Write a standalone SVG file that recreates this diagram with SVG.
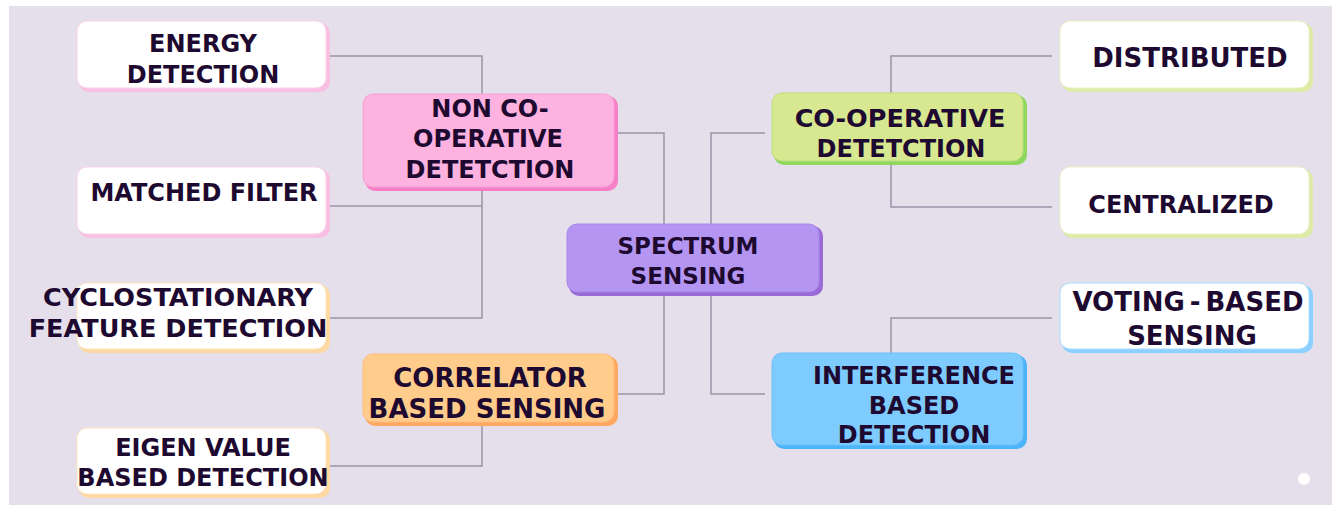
<svg xmlns="http://www.w3.org/2000/svg" width="1340" height="505" viewBox="0 0 1340 505">
  <defs>
    <style>
      .bg { fill: #E5DFEC; }
      .wire { fill: none; stroke: #9B94A8; stroke-width: 1.5; }
      text { font-family: "DejaVu Sans", "Liberation Sans", sans-serif; font-weight: bold; font-size: 24px; fill: #1E0A30; text-anchor: middle; }
      .big { font-size: 26px; }
      .mid { font-size: 25.5px; }
      .small { font-size: 23px; }
      .pink .edge { fill: #F77FC8; }  .pink .face { fill: #FDB2DF; stroke: #F9A0D4; }
      .pinkw .edge { fill: #F9BFE2; } .pinkw .face { fill: #FFFFFF; stroke: #FBD3EC; }
      .orange .edge { fill: #FFA862; } .orange .face { fill: #FFCC8C; stroke: #FFBA78; }
      .orangew .edge { fill: #FED8A2; } .orangew .face { fill: #FFFFFF; stroke: #FFE4BE; }
      .purple .edge { fill: #9A6BD6; } .purple .face { fill: #B496F2; stroke: #A886E6; }
      .green .edge { fill: #8ED860; } .green .face { fill: #D8E890; stroke: #B8E07A; }
      .greenw .edge { fill: #DDEBA6; } .greenw .face { fill: #FFFFFF; stroke: #E8F2C2; }
      .blue .edge { fill: #4CB4F8; } .blue .face { fill: #7ECBFF; stroke: #6CC0FA; }
      .bluew .edge { fill: #8CD0FF; } .bluew .face { fill: #FFFFFF; stroke: #A8DCFF; }
      .face { stroke-width: 1; }
    </style>
  </defs>

  <rect class="bg" x="9" y="6" width="1323" height="499"/>

  <g id="connectors">
    <!-- left branch: non co-operative detection and its children -->
    <path class="wire" d="M617,133 H664 V224"/>
    <path class="wire" d="M329,56 H482 V94"/>
    <path class="wire" d="M482,190 V318 H329"/>
    <path class="wire" d="M482,206 H329"/>
    <!-- left branch: correlator based sensing -->
    <path class="wire" d="M664,295 V394 H617"/>
    <path class="wire" d="M482,425 V466 H329"/>
    <!-- right branch: co-operative detection -->
    <path class="wire" d="M711,224 V133 H765"/>
    <path class="wire" d="M891,93 V56 H1052"/>
    <path class="wire" d="M891,164 V207 H1052"/>
    <!-- right branch: interference based detection -->
    <path class="wire" d="M711,295 V394 H765"/>
    <path class="wire" d="M891,353 V318 H1052"/>
  </g>

  <g id="spectrum-sensing" class="purple">
    <rect class="edge" x="569" y="226" width="254" height="70" rx="10"/>
    <rect class="face" x="567" y="224" width="252" height="68" rx="10"/>
    <text class="small" x="688" y="254">SPECTRUM</text>
    <text class="small" x="688" y="284">SENSING</text>
  </g>

  <g id="non-cooperative" class="pink">
    <rect class="edge" x="365" y="96" width="253" height="95" rx="10"/>
    <rect class="face" x="363" y="94" width="251" height="93" rx="10"/>
    <text x="490" y="117">NON CO-</text>
    <text x="488" y="147">OPERATIVE</text>
    <text x="490" y="178">DETETCTION</text>
  </g>

  <g id="energy-detection" class="pinkw">
    <rect class="edge" x="79" y="23" width="251" height="69" rx="10"/>
    <rect class="face" x="77" y="21" width="249" height="67" rx="10"/>
    <text x="203" y="52">ENERGY</text>
    <text x="203" y="83">DETECTION</text>
  </g>

  <g id="matched-filter" class="pinkw">
    <rect class="edge" x="79" y="169" width="251" height="69" rx="10"/>
    <rect class="face" x="77" y="167" width="249" height="67" rx="10"/>
    <text x="204" y="201">MATCHED FILTER</text>
  </g>

  <g id="cyclostationary" class="orangew">
    <rect class="edge" x="79" y="285" width="251" height="68" rx="10"/>
    <rect class="face" x="77" y="283" width="249" height="66" rx="10"/>
    <text class="mid" x="178" y="306">CYCLOSTATIONARY</text>
    <text class="mid" x="178" y="337">FEATURE DETECTION</text>
  </g>

  <g id="correlator" class="orange">
    <rect class="edge" x="365" y="356" width="253" height="70" rx="10"/>
    <rect class="face" x="363" y="354" width="251" height="68" rx="10"/>
    <text class="big" x="490" y="387">CORRELATOR</text>
    <text class="big" x="487" y="418">BASED SENSING</text>
  </g>

  <g id="eigen-value" class="orangew">
    <rect class="edge" x="79" y="430" width="251" height="68" rx="10"/>
    <rect class="face" x="77" y="428" width="249" height="66" rx="10"/>
    <text x="203" y="456">EIGEN VALUE</text>
    <text x="203" y="486">BASED DETECTION</text>
  </g>

  <g id="cooperative" class="green">
    <rect class="edge" x="774" y="95" width="253" height="70" rx="10"/>
    <rect class="face" x="772" y="93" width="251" height="68" rx="10"/>
    <text class="mid" x="900" y="127">CO-OPERATIVE</text>
    <text x="901" y="157">DETETCTION</text>
  </g>

  <g id="distributed" class="greenw">
    <rect class="edge" x="1062" y="23" width="251" height="69" rx="10"/>
    <rect class="face" x="1060" y="21" width="249" height="67" rx="10"/>
    <text class="big" x="1190" y="67">DISTRIBUTED</text>
  </g>

  <g id="centralized" class="greenw">
    <rect class="edge" x="1062" y="169" width="251" height="69" rx="10"/>
    <rect class="face" x="1060" y="167" width="249" height="67" rx="10"/>
    <text x="1181" y="213">CENTRALIZED</text>
  </g>

  <g id="interference" class="blue">
    <rect class="edge" x="774" y="355" width="253" height="94" rx="10"/>
    <rect class="face" x="772" y="353" width="251" height="92" rx="10"/>
    <text x="914" y="384">INTERFERENCE</text>
    <text x="914" y="414">BASED</text>
    <text x="914" y="443">DETECTION</text>
  </g>

  <g id="voting-based" class="bluew">
    <rect class="edge" x="1062" y="285" width="251" height="68" rx="10"/>
    <rect class="face" x="1060" y="283" width="249" height="66" rx="10"/>
    <text class="big" x="1188" y="311">VOTING<tspan dx="5">-</tspan><tspan dx="5">BASED</tspan></text>
    <text class="big" x="1192" y="345">SENSING</text>
  </g>

  <circle cx="1304" cy="479" r="6" fill="#FFFFFF"/>
</svg>
